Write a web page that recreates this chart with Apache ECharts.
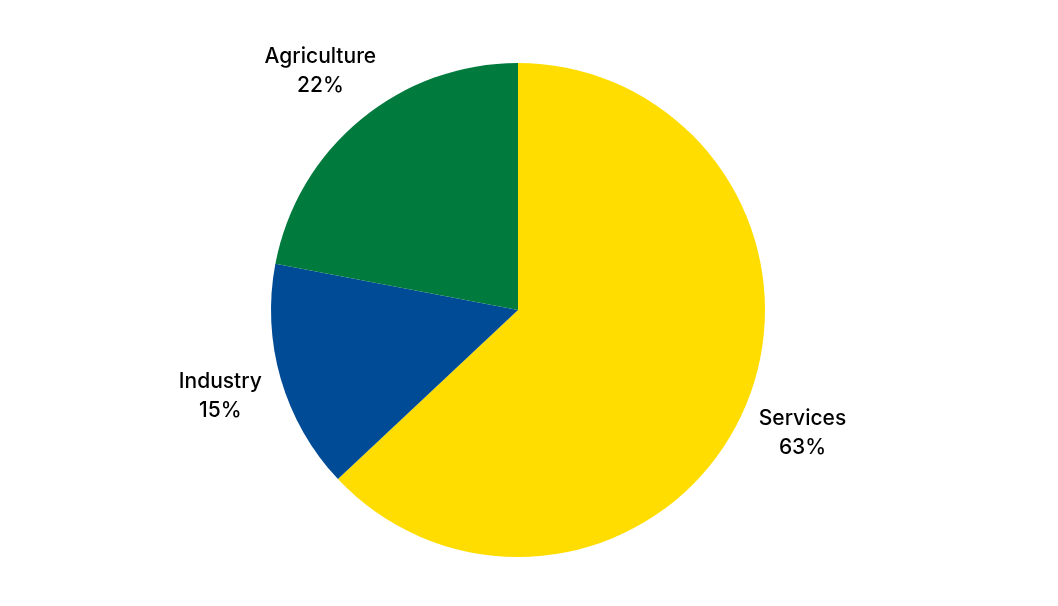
<!DOCTYPE html>
<html><head><meta charset="utf-8">
<script src="https://cdn.jsdelivr.net/npm/echarts@6/dist/echarts.min.js"></script>
<style>html,body{margin:0;padding:0;background:#fff}#c{width:1058px;height:606px}</style>
</head><body><div id="c"></div>
<script>
const categories = ['Services', 'Industry', 'Agriculture'];
const values = [63, 15, 22];
const colors = ['#FFDD00', '#004B96', '#007A3D'];

const data = categories.map((n, i) => ({ name: n, value: values[i], itemStyle: { color: colors[i] } }));
const chart = echarts.init(document.getElementById('c'), null, { renderer: 'canvas' });
chart.setOption({
  animation: false,
  series: [
    {
      type: 'pie',
      center: [518, 310],
      radius: [0, 247],
      startAngle: 90,
      clockwise: true,
      label: { show: false },
      labelLine: { show: false },
      silent: true,
      data: data
    },
    {
      type: 'pie',
      center: [518, 310],
      radius: [290, 324],
      startAngle: 90,
      clockwise: true,
      silent: true,
      itemStyle: { color: 'transparent' },
      label: {
        show: true,
        position: 'inside',
        formatter: p => p.name + '\n' + p.value + '%',
        color: '#000',
        fontFamily: 'Inter, Roboto, sans-serif',
        fontSize: 21,
        fontWeight: 500,
        lineHeight: 29,
        align: 'center'
      },
      labelLine: { show: false },
      data: categories.map((n, i) => ({ name: n, value: values[i] }))
    }
  ]
});
</script></body></html>
